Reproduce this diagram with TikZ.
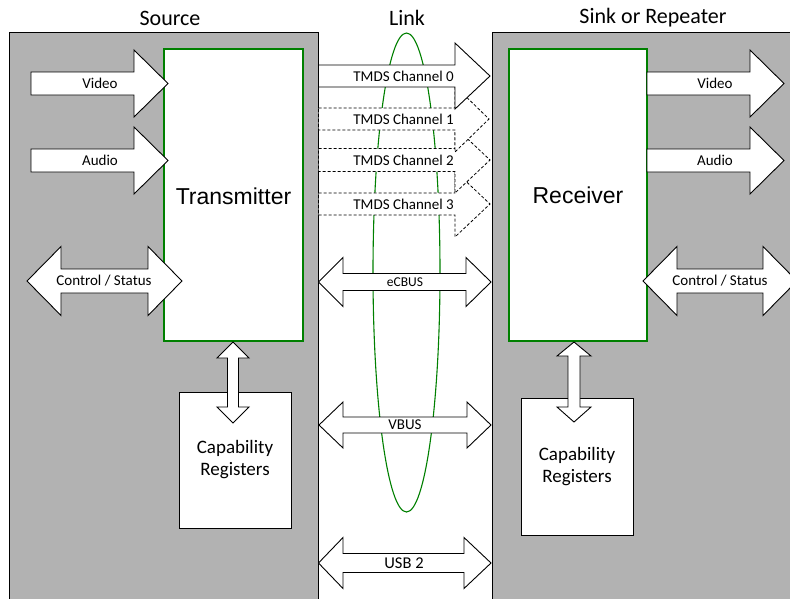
\documentclass[tikz,border=0pt]{standalone}
\usepackage{fontspec}
\setmainfont{Carlito}
\newfontfamily\arialf{Liberation Sans}
\definecolor{panelgray}{RGB}{178,178,178}
\definecolor{boxgreen}{RGB}{0,128,0}
% right arrow: style, x1, xbase, xtip, yc, shaft half, head half
\newcommand{\myrarr}[7]{%
  \draw[#1] (#2,{#5-#6}) -- (#3,{#5-#6}) -- (#3,{#5-#7}) -- (#4,#5) -- (#3,{#5+#7}) -- (#3,{#5+#6}) -- (#2,{#5+#6}) -- cycle;}
% horizontal double arrow: style, xl, xlb, xrb, xr, yc, shaft half, head half
\newcommand{\myharr}[8]{%
  \draw[#1] (#2,#6) -- (#3,{#6-#8}) -- (#3,{#6-#7}) -- (#4,{#6-#7}) -- (#4,{#6-#8}) -- (#5,#6) -- (#4,{#6+#8}) -- (#4,{#6+#7}) -- (#3,{#6+#7}) -- (#3,{#6+#8}) -- cycle;}
% vertical double arrow: style, xc, ytop, ytopbase, ybotbase, ybot, shaft half, head half
\newcommand{\myvarr}[8]{%
  \draw[#1] (#2,#3) -- ({#2+#8},#4) -- ({#2+#7},#4) -- ({#2+#7},#5) -- ({#2+#8},#5) -- (#2,#6) -- ({#2-#8},#5) -- ({#2-#7},#5) -- ({#2-#7},#4) -- ({#2-#8},#4) -- cycle;}
\begin{document}
\begin{tikzpicture}[x=1pt,y=-1pt,
  panel/.style={fill=panelgray,draw=black,line width=1pt},
  chipbox/.style={fill=white,draw=boxgreen,line width=1.8pt},
  regbox/.style={fill=white,draw=black,line width=1pt},
  arr/.style={fill=white,draw=black,line width=0.9pt,line join=miter},
  darr/.style={fill=white,draw=black,line width=0.8pt,dash pattern=on 3pt off 2pt},
  title/.style={font=\fontsize{22}{26}\selectfont,inner sep=0pt},
  lbl/.style={font=\fontsize{15}{18}\selectfont,inner sep=0pt},
  chip/.style={font=\arialf\fontsize{23}{27}\selectfont,inner sep=0pt},
  reg/.style={font=\fontsize{19}{22}\selectfont,align=center,inner sep=0pt}]
\useasboundingbox (0,0) rectangle (790,598);
\clip (0,0) rectangle (790,598);
\fill[white] (0,0) rectangle (790,598);
% panels
\draw[panel] (9,32) rectangle (318.5,620);
\draw[panel] (492,32) rectangle (820,620);
% titles
\node[title] (tsrc) at (170,18) {Source};
\node[title] (tlink) at (407,18) {Link};
\node[title] (tsink) at (653,18) {Sink or Repeater};
% link ellipse
\draw[boxgreen,line width=1.1pt] (406.5,272.5) ellipse [x radius=33.5, y radius=239.5];
% chips
\draw[chipbox] (164,49) rectangle (303,341);
\node[chip] (tx) at (233.5,196) {Transmitter};
\draw[chipbox] (509,49) rectangle (647,341);
\node[chip] (rx) at (578,195) {Receiver};
% source inputs
\myrarr{arr}{31}{134}{168}{83.5}{11.5}{33.5}
\node[lbl] (vin) at (100,83.5) {Video};
\myrarr{arr}{31}{134}{168}{160.5}{11.5}{33.5}
\node[lbl] (ain) at (100,160.5) {Audio};
\myharr{arr}{27}{61}{148}{182}{281}{12}{34.5}
\node[lbl] (csin) at (104,281) {Control / Status};
% sink outputs
\myrarr{arr}{647}{750}{784}{83.5}{11.5}{33.5}
\node[lbl] (vout) at (715,83.5) {Video};
\myrarr{arr}{647}{750}{784}{160.5}{11.5}{33.5}
\node[lbl] (aout) at (715,160.5) {Audio};
\myharr{arr}{643}{677}{763}{797}{281}{12}{34.5}
\node[lbl] (csout) at (720,281) {Control / Status};
% capability registers
\draw[regbox] (179,392) rectangle (291,528);
\node[reg] (capl) at (235,460) {Capability\\Registers};
\myvarr{arr}{233}{342}{358}{407}{423}{5.5}{16}
\draw[regbox] (521,398) rectangle (633,535);
\node[reg] (capr) at (577,467) {Capability\\Registers};
\myvarr{arr}{574}{342}{356}{407}{422}{6}{17}
% TMDS channels
\myrarr{darr}{318.5}{455}{490}{204}{11}{33}
\node[lbl,anchor=east] (ch3) at (454,204) {TMDS Channel 3};
\myrarr{darr}{318.5}{455}{490}{160}{11.5}{33}
\node[lbl,anchor=east] (ch2) at (454,160) {TMDS Channel 2};
\myrarr{darr}{318.5}{455}{489}{119}{11}{33}
\node[lbl,anchor=east] (ch1) at (454,119) {TMDS Channel 1};
\myrarr{arr}{318.5}{455}{490}{76}{11}{33}
\node[lbl,anchor=east] (ch0) at (454,76) {TMDS Channel 0};
% buses
\myharr{arr}{318.5}{343}{466}{491}{282}{8.5}{24.5}
\node[font=\fontsize{13.5}{16}\selectfont,inner sep=0pt] (ecbus) at (405,282) {eCBUS};
\myharr{arr}{319}{343}{467}{491}{425}{8}{23}
\node[lbl] (vbus) at (405,425) {VBUS};
\myharr{arr}{318.5}{343}{464}{491}{563}{9.5}{25.5}
\node[font=\fontsize{16.5}{19}\selectfont,inner sep=0pt] (usb) at (404,563) {USB 2};
\end{tikzpicture}
\end{document}
